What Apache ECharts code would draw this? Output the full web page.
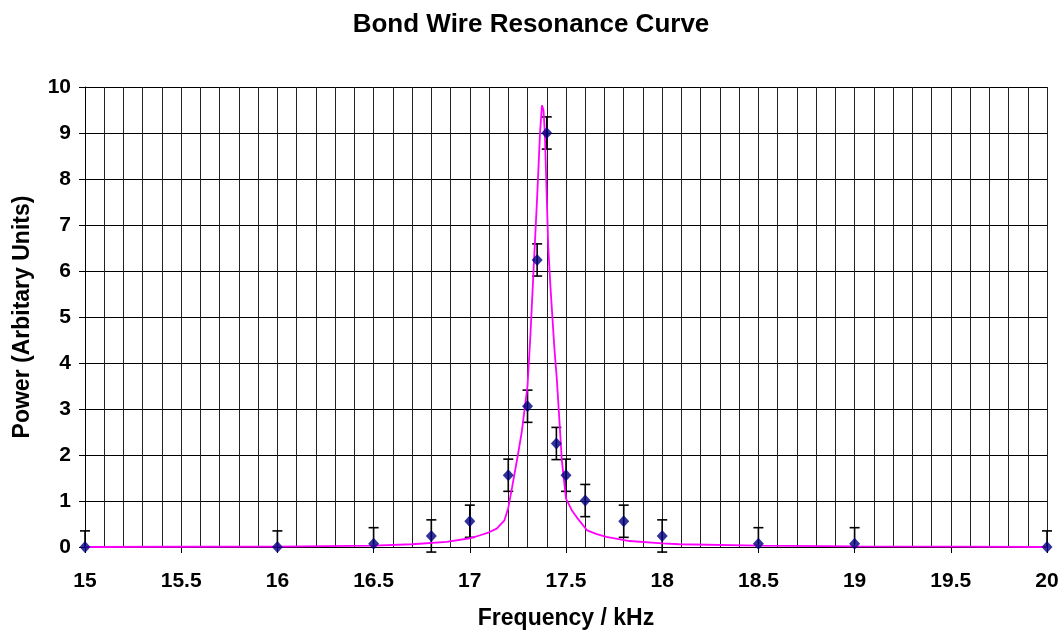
<!DOCTYPE html>
<html>
<head>
<meta charset="utf-8">
<script src="https://cdn.jsdelivr.net/npm/echarts@6/dist/echarts.min.js"></script>
<style>html,body{margin:0;padding:0;background:#fff;}#c{width:1062px;height:635px;}</style>
</head>
<body>
<div id="c"></div>
<script>
// Measured data points (frequency kHz, power)
const pointX = [15, 16, 16.5, 16.8, 17, 17.2, 17.3, 17.35, 17.4, 17.45, 17.5, 17.6, 17.8, 18, 18.5, 19, 20];
const pointY = [0, 0, 0.07, 0.24, 0.56, 1.56, 3.06, 6.24, 9.0, 2.25, 1.56, 1.01, 0.56, 0.24, 0.07, 0.07, 0];
const errUp  = [0.35, 0.35, 0.35, 0.35, 0.35, 0.35, 0.35, 0.35, 0.35, 0.35, 0.35, 0.35, 0.35, 0.35, 0.35, 0.35, 0.35];
const errLow = [0, 0, 0, 0.35, 0.35, 0.35, 0.35, 0.35, 0.35, 0.35, 0.35, 0.35, 0.35, 0.35, 0, 0, 0];

// Fitted resonance curve
const curveX = [15, 15.5, 16, 16.5, 16.7, 16.88, 17.0, 17.05, 17.1, 17.14, 17.18, 17.2, 17.22, 17.25, 17.27, 17.3, 17.315, 17.33, 17.35, 17.365, 17.375, 17.383, 17.39, 17.408, 17.42, 17.44, 17.452, 17.465, 17.478, 17.5, 17.53, 17.555, 17.61, 17.66, 17.71, 17.83, 18.0, 18.09, 18.5, 19, 19.5, 20];
const curveY = [0.0, 0.005, 0.01, 0.03, 0.06, 0.11, 0.19, 0.25, 0.32, 0.40, 0.58, 0.85, 1.3, 2.0, 2.5, 3.5, 4.6, 5.9, 7.6, 9.0, 9.6, 9.5, 9.0, 6.5, 5.6, 4.3, 3.67, 2.8, 1.9, 1.05, 0.8, 0.65, 0.36, 0.28, 0.22, 0.13, 0.08, 0.06, 0.03, 0.015, 0.008, 0.0];

const xTicks = { min: 15, max: 20, interval: 0.5 };
const yTicks = { min: 0, max: 10, interval: 1 };

const FONT = 'Liberation Sans, Arial, Helvetica, sans-serif';

const pointData = pointX.map((x, i) => [x, pointY[i]]);
const errData = pointX.map((x, i) => [x, pointY[i], errUp[i], errLow[i]]);
const curveData = curveX.map((x, i) => [x, curveY[i]]);

const chart = echarts.init(document.getElementById('c'), null, { renderer: 'canvas' });
chart.setOption({
  animation: false,
  backgroundColor: '#fff',
  title: {
    text: 'Bond Wire Resonance Curve',
    left: 'center',
    top: 7,
    textStyle: { fontFamily: FONT, fontWeight: 'bold', fontSize: 26, color: '#000' }
  },
  grid: { left: 85, right: 15, top: 87, bottom: 83, containLabel: false },
  xAxis: {
    type: 'value',
    min: xTicks.min, max: xTicks.max, interval: xTicks.interval,
    name: 'Frequency / kHz',
    nameLocation: 'middle',
    nameGap: 60,
    nameTextStyle: { fontFamily: FONT, fontWeight: 'bold', fontSize: 23, color: '#000' },
    axisLine: { show: true, onZero: false, lineStyle: { color: '#000', width: 1 } },
    axisTick: { show: true, length: 6, lineStyle: { color: '#000' } },
    axisLabel: { fontFamily: FONT, fontWeight: 'bold', fontSize: 21, color: '#000', margin: 24 },
    splitLine: { show: true, lineStyle: { color: '#222', width: 1 } },
    minorTick: { show: false, splitNumber: 5 },
    minorSplitLine: { show: true, lineStyle: { color: '#222', width: 1 } }
  },
  yAxis: {
    type: 'value',
    min: yTicks.min, max: yTicks.max, interval: yTicks.interval,
    name: 'Power (Arbitary Units)',
    nameLocation: 'middle',
    nameGap: 51,
    nameTextStyle: { fontFamily: FONT, fontWeight: 'bold', fontSize: 23, color: '#000' },
    axisLine: { show: true, lineStyle: { color: '#000', width: 1 } },
    axisTick: { show: true, length: 6, lineStyle: { color: '#000' } },
    axisLabel: { fontFamily: FONT, fontWeight: 'bold', fontSize: 21, color: '#000', margin: 14 },
    splitLine: { show: true, lineStyle: { color: '#000', width: 1 } }
  },
  series: [
    {
      type: 'custom',
      name: 'errors',
      z: 3,
      data: errData,
      renderItem: function (params, api) {
        const x = api.value(0), y = api.value(1), up = api.value(2), lo = api.value(3);
        const top = api.coord([x, y + up]);
        const bot = api.coord([x, y - lo]);
        const hw = 5;
        const children = [{
          type: 'line', shape: { x1: top[0], y1: top[1], x2: bot[0], y2: bot[1] },
          style: { stroke: '#000', lineWidth: 1.6 }
        }, {
          type: 'line', shape: { x1: top[0] - hw, y1: top[1], x2: top[0] + hw, y2: top[1] },
          style: { stroke: '#000', lineWidth: 1.6 }
        }];
        if (lo > 0) {
          children.push({
            type: 'line', shape: { x1: bot[0] - hw, y1: bot[1], x2: bot[0] + hw, y2: bot[1] },
            style: { stroke: '#000', lineWidth: 1.6 }
          });
        }
        return { type: 'group', children: children };
      },
      clip: false
    },
    {
      type: 'line',
      name: 'fit',
      z: 4,
      data: curveData,
      showSymbol: false,
      smooth: false,
      lineStyle: { color: '#ff00ff', width: 1.8 }
    },
    {
      type: 'scatter',
      name: 'data',
      z: 5,
      data: pointData,
      symbol: 'diamond',
      symbolSize: [11, 12],
      itemStyle: { color: '#000080' }
    }
  ]
});
</script>
</body>
</html>
